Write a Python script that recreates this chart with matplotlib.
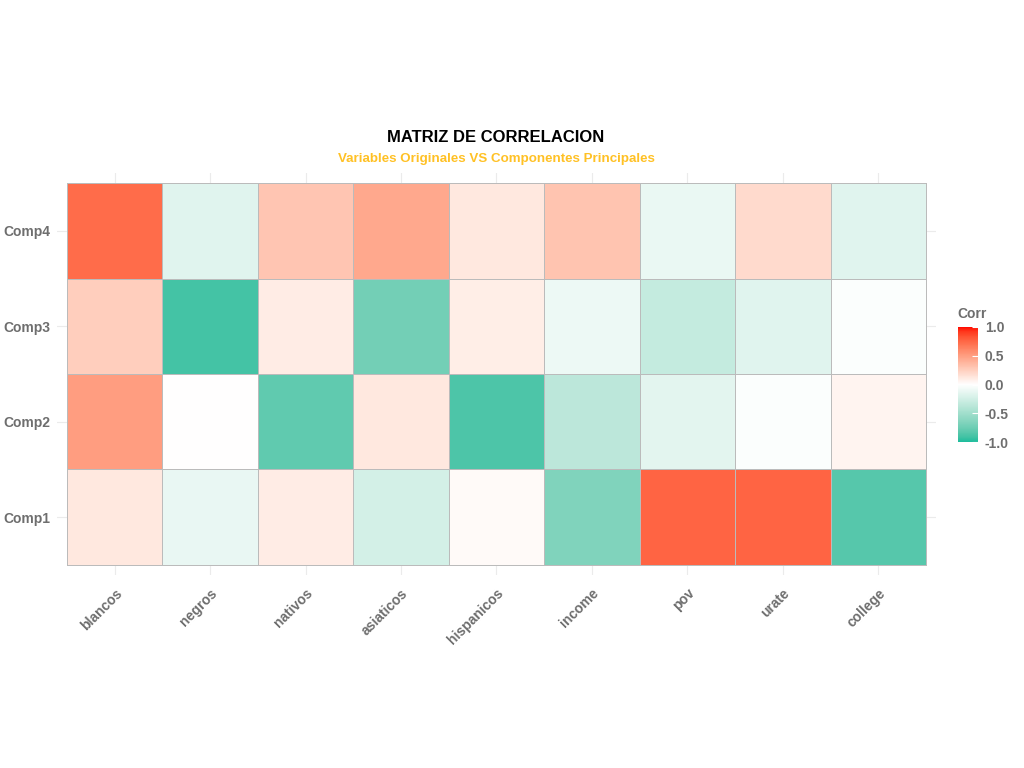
import numpy as np
import matplotlib
matplotlib.use("Agg")
import matplotlib.pyplot as plt
from matplotlib.colors import ListedColormap, to_rgb

# datos: correlacion variables originales vs componentes principales
variables = ["blancos", "negros", "nativos", "asiaticos", "hispanicos",
             "income", "pov", "urate", "college"]
componentes = ["Comp1", "Comp2", "Comp3", "Comp4"]

comp1 = [0.12, -0.12, 0.10, -0.24, 0.03, -0.66, 0.76, 0.76, -0.84]
comp2 = [0.50, 0.00, -0.80, 0.12, -0.87, -0.36, -0.15, -0.02, 0.06]
comp3 = [0.25, -0.90, 0.10, -0.72, 0.09, -0.10, -0.32, -0.17, -0.02]
comp4 = [0.73, -0.17, 0.30, 0.45, 0.12, 0.31, -0.11, 0.19, -0.17]

corr = np.array([comp1, comp2, comp3, comp4])

low, mid, high = "#1ABC9C", "#FFFFFF", "#FF0000"


# interpolacion en espacio Lab (como scale_fill_gradient2)
def rgb_to_lab(c):
    c = np.array(c)
    c = np.where(c > 0.04045, ((c + 0.055) / 1.055) ** 2.4, c / 12.92)
    m = np.array([[0.4124, 0.3576, 0.1805],
                  [0.2126, 0.7152, 0.0722],
                  [0.0193, 0.1192, 0.9505]])
    xyz = m @ c / np.array([0.95047, 1.0, 1.08883])
    f = np.where(xyz > 0.008856, np.cbrt(xyz), 7.787 * xyz + 16 / 116)
    return np.array([116 * f[1] - 16, 500 * (f[0] - f[1]), 200 * (f[1] - f[2])])


def lab_to_rgb(lab):
    fy = (lab[0] + 16) / 116
    fx = fy + lab[1] / 500
    fz = fy - lab[2] / 200
    f = np.array([fx, fy, fz])
    xyz = np.where(f ** 3 > 0.008856, f ** 3, (f - 16 / 116) / 7.787)
    xyz = xyz * np.array([0.95047, 1.0, 1.08883])
    m = np.array([[3.2406, -1.5372, -0.4986],
                  [-0.9689, 1.8758, 0.0415],
                  [0.0557, -0.2040, 1.0570]])
    c = m @ xyz
    c = np.where(c > 0.0031308, 1.055 * np.clip(c, 0, None) ** (1 / 2.4) - 0.055, 12.92 * c)
    return np.clip(c, 0, 1)


lab_low, lab_mid, lab_high = [rgb_to_lab(to_rgb(c)) for c in (low, mid, high)]
colores = []
for v in np.linspace(-1, 1, 256):
    if v < 0:
        lab = lab_mid + (lab_low - lab_mid) * (-v)
    else:
        lab = lab_mid + (lab_high - lab_mid) * v
    colores.append(lab_to_rgb(lab))
cmap = ListedColormap(colores)

plt.rcParams["font.family"] = ["Liberation Sans", "DejaVu Sans"]

fig = plt.figure(figsize=(10.24, 7.68), dpi=100)
W, H = 1024, 768
ax = fig.add_axes([57 / W, 1 - 575 / H, (936 - 57) / W, (575 - 173) / H])

mesh = ax.pcolormesh(np.arange(len(variables) + 1), np.arange(len(componentes) + 1), corr,
                     cmap=cmap, vmin=-1, vmax=1, edgecolor="#BBBBBB", linewidth=0.5, zorder=2)
ax.set_xlim(-0.105, len(variables) + 0.105)
ax.set_ylim(-0.105, len(componentes) + 0.105)

ax.set_xticks(np.arange(len(variables)) + 0.5)
ax.set_xticklabels(variables, rotation=45, ha="right", va="top", rotation_mode="anchor",
                   color="#6E6E6E", fontsize=10, fontweight="bold")
ax.set_yticks(np.arange(len(componentes)) + 0.5)
ax.set_yticklabels(componentes, color="#6E6E6E", fontsize=10, fontweight="bold")
ax.tick_params(length=0, pad=5)
ax.tick_params(axis="x", pad=8)
ax.grid(True, color="#EBEBEB", linewidth=0.8, zorder=0)
ax.set_axisbelow(True)
for s in ax.spines.values():
    s.set_visible(False)

fig.text(496 / W, 1 - 137 / H, "MATRIZ DE CORRELACION", ha="center", va="center",
         fontsize=12, fontweight="bold", color="black")
fig.text(496 / W, 1 - 159 / H, "Variables Originales VS Componentes Principales",
         ha="center", va="center", fontsize=9.6, fontweight="bold", color="#FFC125")

# leyenda
cax = fig.add_axes([958 / W, 1 - 442 / H, 20 / W, (442 - 327) / H])
cb = fig.colorbar(mesh, cax=cax, ticks=[-1, -0.5, 0, 0.5, 1])
cb.outline.set_visible(False)
cb.ax.set_yticklabels(["-1.0", "-0.5", "0.0", "0.5", "1.0"])
cb.ax.tick_params(length=4, color="white", width=0.8, direction="in", pad=5,
                  labelsize=10, labelcolor="#6E6E6E")
for t in cb.ax.get_yticklabels():
    t.set_fontweight("bold")
fig.text(957 / W, 1 - 314 / H, "Corr", ha="left", va="center", fontsize=10,
         fontweight="bold", color="#6E6E6E")

fig.savefig("out.png", dpi=100, facecolor="white")
